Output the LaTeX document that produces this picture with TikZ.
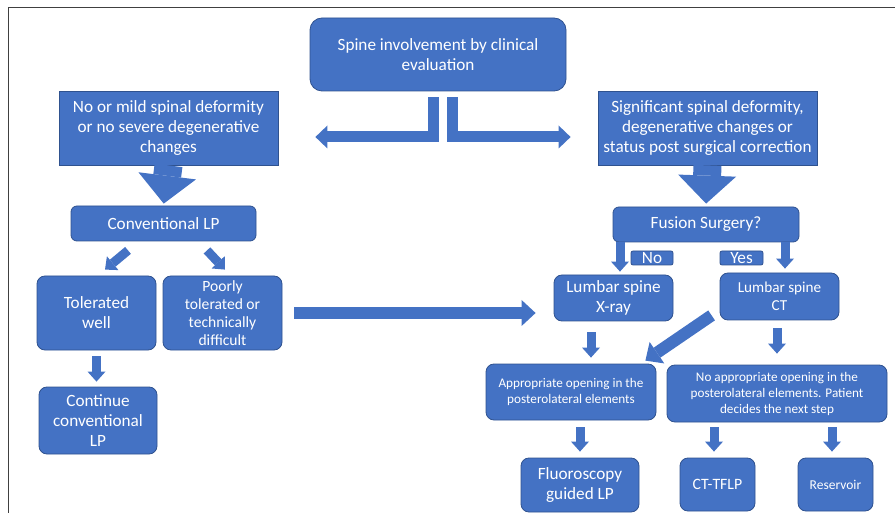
\documentclass[tikz,border=0pt]{standalone}
\usepackage{fontspec}
\setmainfont{Carlito}
\usetikzlibrary{arrows.meta}
\definecolor{boxblue}{HTML}{4472C4}
\definecolor{boxedge}{HTML}{2F528F}
\definecolor{framegray}{HTML}{404040}

\begin{document}
\begin{tikzpicture}[
    x=1pt, y=-1pt,
    every node/.style={fill=boxblue, draw=boxedge, line width=0.8pt, text=white, align=center,
        inner sep=0pt, font=\fontsize{17.2}{20}\selectfont},
    roundbox/.style={rounded corners=8pt},
    dims/.style 2 args={minimum width=#1, minimum height=#2},
    fatarrow/.style={draw=boxblue, line width=28pt, -{Triangle[width=58pt,length=28pt,line width=0pt]}},
    bentarrow/.style={draw=boxblue, line width=11pt, -{Triangle[width=23pt,length=12pt,line width=0pt]}},
    longarrow/.style={draw=boxblue, line width=12pt, -{Triangle[width=26pt,length=14pt,line width=0pt]}},
    thinarrow/.style={draw=boxblue, line width=9pt, -{Triangle[width=18pt,length=10pt,line width=0pt]}}
]
    \useasboundingbox (0,0) rectangle (895,513);
    \draw[framegray, line width=1pt] (8,513) -- (8,8) -- (895,8);

    % Primera decisión
    \node[roundbox, rounded corners=12pt, dims={256pt}{73pt}] (spine) at (438,54.5)
        {Spine involvement by clinical\\evaluation};
    \node[dims={219pt}{74pt}] (mild) at (168.5,128)
        {No or mild spinal deformity\\or no severe degenerative\\changes};
    \node[dims={219pt}{74pt}] (severe) at (707.5,128)
        {Significant spinal deformity,\\degenerative changes or\\status post surgical correction};

    % Rama izquierda
    \node[roundbox, rounded corners=6pt, dims={185pt}{35pt}] (conv) at (163.5,223.5) {Conventional LP};
    \node[roundbox, dims={119pt}{74pt}] (tol) at (96.5,313) {Tolerated\\well};
    \node[roundbox, dims={119pt}{74pt}, font=\fontsize{15.6}{18}\selectfont] (poor) at (222.5,313)
        {Poorly\\tolerated or\\technically\\difficult};
    \node[roundbox, dims={118pt}{67pt}] (cont) at (98,420.5) {Continue\\conventional\\LP};

    % Rama derecha
    \node[roundbox, rounded corners=6pt, dims={186pt}{35pt}] (fusion) at (706,224.5) {Fusion Surgery?};
    \node[rounded corners=2pt, dims={42pt}{14pt}] (no) at (652,258) {No};
    \node[rounded corners=2pt, dims={43pt}{14pt}] (yes) at (741.5,258) {Yes};
    \node[roundbox, dims={119pt}{46pt}] (xray) at (613.5,298) {Lumbar spine\\X-ray};
    \node[roundbox, dims={119pt}{47pt}, font=\fontsize{15.2}{18}\selectfont] (ct) at (779.5,296.5)
        {Lumbar spine\\CT};
    \node[roundbox, dims={170pt}{56pt}, font=\fontsize{13.2}{16}\selectfont] (appr) at (571,392)
        {Appropriate opening in the\\posterolateral elements};
    \node[roundbox, dims={220pt}{57pt}, font=\fontsize{13.2}{16}\selectfont] (noappr) at (777,393.5)
        {No appropriate opening in the\\posterolateral elements. Patient\\decides the next step};
    \node[roundbox, dims={118pt}{54pt}] (fluoro) at (580,485) {Fluoroscopy\\guided LP};
    \node[roundbox, dims={75pt}{53pt}, font=\fontsize{15.8}{19}\selectfont] (cttflp) at (717.5,484.5) {CT-TFLP};
    \node[roundbox, dims={75pt}{53pt}, font=\fontsize{13.5}{17}\selectfont] (res) at (835.5,484.5) {Reservoir};

    % Flechas
    \draw[bentarrow, shorten <=6pt, shorten >=37pt] ([xshift=-4.5pt]spine.south) |- ([yshift=-9pt]mild.east);
    \draw[bentarrow, shorten <=6pt, shorten >=27pt] ([xshift=14.5pt]spine.south) |- ([yshift=-9pt]severe.west);
    \draw[fatarrow, shorten >=2pt] (mild.south) -- (conv.north);
    \draw[fatarrow, shorten >=3pt] (severe.south) -- (fusion.north);

    \draw[thinarrow] ([shift={(-35.5pt,-9pt)}]conv.south) -- ([shift={(8.5pt,6pt)}]tol.north);
    \draw[thinarrow] ([shift={(43.5pt,-9pt)}]conv.south) -- ([shift={(2.5pt,6pt)}]poor.north);
    \draw[thinarrow, shorten <=6pt, shorten >=5pt] (tol.south) -- (tol.south |- cont.north);
    \draw[longarrow, shorten <=12pt, shorten >=18pt] (poor.east) -- (poor.east -| xray.west);

    \draw[thinarrow, shorten >=3pt] ([xshift=-86pt]fusion.south) -- ([xshift=-86pt]fusion.south |- xray.north);
    \draw[thinarrow, shorten >=4pt] ([xshift=79pt]fusion.south) -- ([xshift=79pt]fusion.south |- ct.north);
    \draw[thinarrow, shorten <=11pt, shorten >=6pt] ([xshift=-22.5pt]xray.south) -- ([xshift=-22.5pt]xray.south |- appr.north);
    \draw[longarrow] ([shift={(-8pt,5pt)}]ct.south west) -- ([shift={(-11pt,3pt)}]appr.north east);
    \draw[thinarrow, shorten <=8pt, shorten >=11pt] ([xshift=-2.5pt]ct.south) -- ([xshift=-2.5pt]ct.south |- noappr.north);

    \draw[thinarrow, shorten <=7pt, shorten >=6pt] (fluoro.north |- appr.south) -- (fluoro.north);
    \draw[thinarrow, shorten <=5pt, shorten >=6pt] ([xshift=-3.5pt]cttflp.north |- noappr.south) -- ([xshift=-3.5pt]cttflp.north);
    \draw[thinarrow, shorten <=5pt, shorten >=6pt] ([xshift=-3.5pt]res.north |- noappr.south) -- ([xshift=-3.5pt]res.north);
\end{tikzpicture}
\end{document}
